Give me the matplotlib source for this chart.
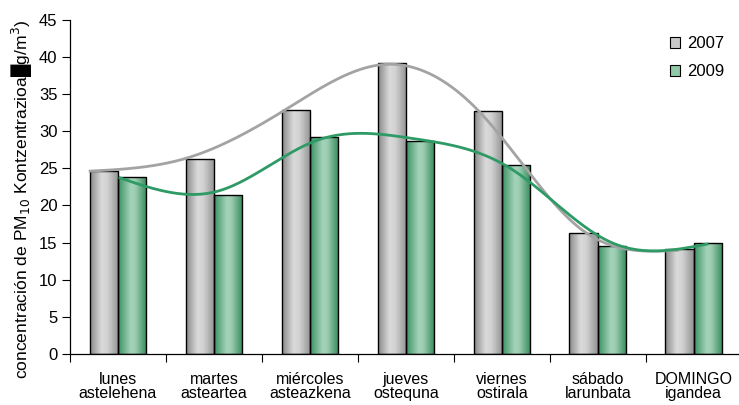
import numpy as np
import matplotlib
matplotlib.use("Agg")
import matplotlib.pyplot as plt
from matplotlib.colors import LinearSegmentedColormap
from matplotlib.patches import Rectangle

plt.rcParams['font.family'] = ['Liberation Sans', 'DejaVu Sans']

categories = ["lunes\nastelehena", "martes\nasteartea", "miércoles\nasteazkena",
              "jueves\nostequna", "viernes\nostirala", "sábado\nlarunbata",
              "DOMINGO\nigandea"]
series_names = ["2007", "2009"]
values_2007 = [24.7, 26.3, 32.8, 39.2, 32.7, 16.3, 14.2]
values_2009 = [23.9, 21.4, 29.2, 28.7, 25.4, 14.6, 15.0]
y_ticks = [0, 5, 10, 15, 20, 25, 30, 35, 40, 45]

fig = plt.figure(figsize=(7.39, 4.05), dpi=100)
ax = fig.add_axes([0.0947, 0.126, 0.909, 0.825])

gray_cmap = LinearSegmentedColormap.from_list(
    "gray_bar", [(0, "#8a8a8a"), (0.4, "#dadada"), (0.6, "#d2d2d2"), (1, "#939393")])
green_cmap = LinearSegmentedColormap.from_list(
    "green_bar", [(0, "#3c9264"), (0.45, "#a6d4bb"), (0.6, "#9ccdb2"), (1, "#388a5b")])

width = 0.295
x = np.arange(len(categories))
grad = np.linspace(0, 1, 64).reshape(1, -1)


def gradient_bars(xs, heights, cmap):
    for xc, h in zip(xs, heights):
        x0 = xc - width / 2
        rect = Rectangle((x0, 0), width, h, facecolor="none",
                         edgecolor="black", linewidth=1.0, zorder=3)
        im = ax.imshow(grad, extent=[x0, x0 + width, 0, h], aspect="auto",
                       cmap=cmap, interpolation="bicubic", zorder=2)
        ax.add_patch(rect)
        im.set_clip_path(rect)


def smoothing_spline(xk, yk, xs, lam):
    """Cubic smoothing spline (Reinsch) with natural ends, evaluated at xs."""
    xk = np.asarray(xk, float)
    yk = np.asarray(yk, float)
    n = len(xk)
    h = np.diff(xk)
    Q = np.zeros((n, n - 2))
    R = np.zeros((n - 2, n - 2))
    for j in range(1, n - 1):
        Q[j - 1, j - 1] = 1 / h[j - 1]
        Q[j, j - 1] = -1 / h[j - 1] - 1 / h[j]
        Q[j + 1, j - 1] = 1 / h[j]
        R[j - 1, j - 1] = (h[j - 1] + h[j]) / 3
        if j < n - 2:
            R[j - 1, j] = R[j, j - 1] = h[j] / 6
    gamma = np.linalg.solve(R + lam * Q.T @ Q, Q.T @ yk)
    f = yk - lam * Q @ gamma
    m = np.concatenate([[0.0], gamma, [0.0]])
    idx = np.clip(np.searchsorted(xk, xs) - 1, 0, n - 2)
    x0, x1 = xk[idx], xk[idx + 1]
    hh = x1 - x0
    t0, t1 = x1 - xs, xs - x0
    return (m[idx] * t0 ** 3 / (6 * hh) + m[idx + 1] * t1 ** 3 / (6 * hh)
            + (f[idx] / hh - m[idx] * hh / 6) * t0
            + (f[idx + 1] / hh - m[idx + 1] * hh / 6) * t1)


gx = x - width / 2
kx = x + width / 2
gradient_bars(gx, values_2007, gray_cmap)
gradient_bars(kx, values_2009, green_cmap)

# smoothed trend curves
step = 1.02
smooth = 0.012
k07 = -0.29 + step * x
k09 = 0.02 + step * x
t07 = np.linspace(k07[0], k07[-1], 400)
t09 = np.linspace(k09[0], k09[-1], 400)
ax.plot(t07, smoothing_spline(k07, values_2007, t07, smooth), color="#a3a3a3", lw=2, zorder=4)
ax.plot(t09, smoothing_spline(k09, values_2009, t09, smooth), color="#2e9a65", lw=2, zorder=5)

ax.set_xlim(-0.5, 6.5)
ax.set_ylim(0, 45)
ax.set_yticks(y_ticks)
ax.set_xticks(np.arange(-0.5, 6.6, 1.0))
ax.set_xticklabels([])
ax.set_xticks(x, minor=True)
ax.set_xticklabels(categories, minor=True, fontsize=11.5, linespacing=0.95)
ax.tick_params(axis="x", which="minor", length=0, pad=13)
ax.tick_params(axis="x", which="major", length=6, direction="out", width=0.8)
ax.tick_params(axis="y", length=6, direction="out", labelsize=12, width=0.8, pad=3)
for s in ("top", "right"):
    ax.spines[s].set_visible(False)
ax.spines["left"].set_linewidth(0.9)
ax.spines["bottom"].set_linewidth(0.9)

ax.set_ylabel("concentración de PM$_{10}$ Kontzentrazioa█g/m$^3$)", fontsize=12.6)
ax.yaxis.set_label_coords(-0.052, 0.462)

# legend
handles = [Rectangle((0, 0), 1, 1, facecolor="#c8c8c8", edgecolor="black", lw=0.8),
           Rectangle((0, 0), 1, 1, facecolor="#8fc9a8", edgecolor="black", lw=0.8)]
fig.legend(handles, series_names, loc="upper left", bbox_to_anchor=(0.906, 0.91),
           frameon=False, fontsize=12, handlelength=0.65, handleheight=0.65,
           handletextpad=0.4, labelspacing=0.75, borderaxespad=0, borderpad=0)

fig.savefig("out.png", dpi=100)
